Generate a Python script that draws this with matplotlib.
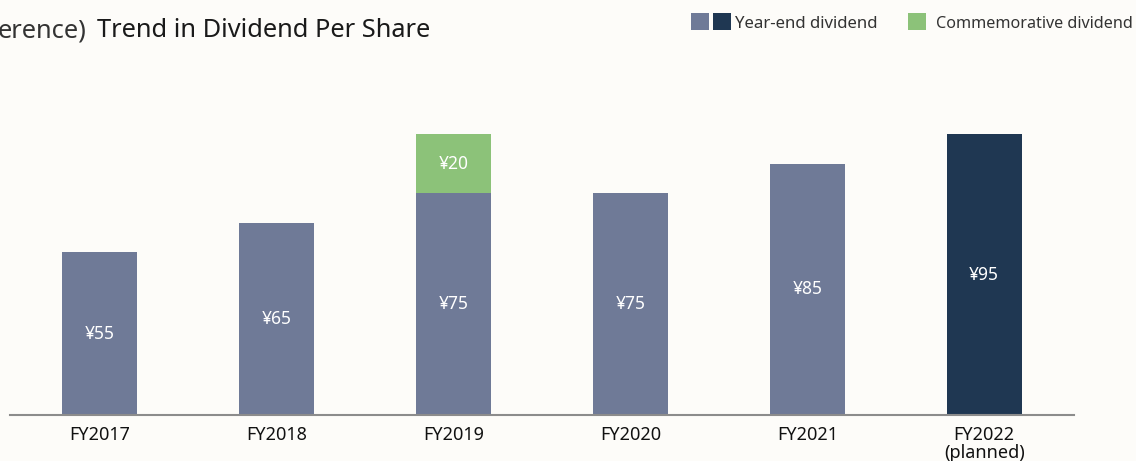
import matplotlib
matplotlib.use("Agg")
import matplotlib.pyplot as plt
from matplotlib.patches import Rectangle

categories = ["FY2017", "FY2018", "FY2019", "FY2020", "FY2021", "FY2022\n(planned)"]
year_end = [55, 65, 75, 75, 85, 95]
commemorative = [0, 0, 20, 0, 0, 0]
planned = [False, False, False, False, False, True]

BG = "#fdfcf9"
C_YE = "#6f7a97"
C_PLAN = "#1f3752"
C_COMM = "#8cc279"
FONT = ["Noto Sans", "DejaVu Sans"]

W, H = 1136, 461
fig = plt.figure(figsize=(W / 100, H / 100), dpi=100, facecolor=BG)

# axes in pixel coordinates
left_px, right_px, base_px, top_px = 10, 1074, 415, 100
ax = fig.add_axes([left_px / W, (H - base_px) / H, (right_px - left_px) / W, (base_px - top_px) / H])
ax.set_facecolor(BG)

x = list(range(len(categories)))
colors = [C_PLAN if p else C_YE for p in planned]
ax.bar(x, year_end, width=0.424, color=colors, zorder=2)
ax.bar(x, commemorative, bottom=year_end, width=0.424, color=C_COMM, zorder=2)

for xi, v, c in zip(x, year_end, commemorative):
    ax.text(xi, v / 2, f"¥{v}", ha="center", va="center", color="white", fontsize=12.5, family=FONT)
    if c:
        ax.text(xi, v + c / 2, f"¥{c}", ha="center", va="center", color="white", fontsize=12.5, family=FONT)

ax.set_xlim(-0.508, 5.508)
ax.set_ylim(0, (base_px - top_px) / 2.955)
for s in ["top", "right", "left"]:
    ax.spines[s].set_visible(False)
ax.spines["bottom"].set_color("#8c8c8c")
ax.spines["bottom"].set_linewidth(1.5)
ax.set_yticks([])
ax.set_xticks(x)
ax.set_xticklabels(categories, family=FONT, fontsize=13, color="#111111", linespacing=1.0)
ax.tick_params(axis="x", length=0, pad=8)

# title
fig.text(-2 / W, 1 - 37 / H, "erence)", family=FONT, fontsize=18.3, color="#333333",
         fontweight="light", va="baseline", ha="left")
fig.text(97 / W, 1 - 37 / H, "Trend in Dividend Per Share", family=FONT, fontsize=18.3,
         color="#1a1a1a", va="baseline", ha="left")

# legend
def sq(px, color):
    fig.patches.append(Rectangle((px / W, 1 - 30 / H), 18 / W, 17 / H, transform=fig.transFigure,
                                 facecolor=color, edgecolor="none"))

sq(691, C_YE)
sq(713, C_PLAN)
fig.text(735 / W, 1 - 28 / H, "Year-end dividend", family=FONT, fontsize=12.1, color="#333333",
         va="baseline", ha="left")
sq(908, C_COMM)
fig.text(1133 / W, 1 - 28 / H, "Commemorative dividend", family=FONT, fontsize=11.6, color="#333333",
         va="baseline", ha="right")

fig.savefig("out.png", dpi=100, facecolor=BG)
